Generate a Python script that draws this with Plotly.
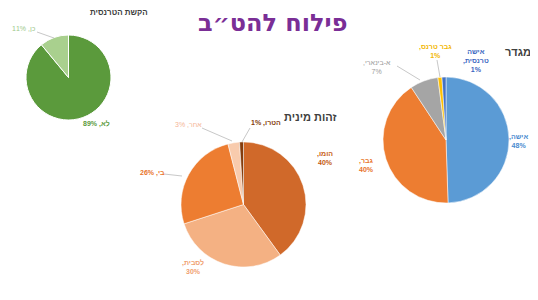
import plotly.graph_objects as go

# The page body has an 8px margin, so the figure is drawn 8px in from the corner.
OFF = 8
W, H = 538 - OFF, 300 - OFF

# ---- data ----
main_title = "פילוח להט״ב"

trans_title = "הקשת הטרנסית"
trans_labels = ["לא", "כן"]
trans_values = [89, 11]
trans_colors = ["#5b9a3c", "#a9d08e"]

gender_title = "מגדר"
gender_labels = ["אישה", "גבר", "א-בינארי", "גבר טרנס", "אישה טרנסית"]
gender_values = [48, 40, 7, 1, 1]
gender_colors = ["#5b9bd5", "#ed7d31", "#a5a5a5", "#ffc000", "#4472c4"]
gender_text_colors = ["#4a8bd0", "#e8732a", "#9a9a9a", "#f2b600", "#3a66bf"]

orient_title = "זהות מינית"
orient_labels = ["הומו", "לסבית", "בי", "אחר", "הטרו"]
orient_values = [40, 30, 26, 3, 1]
orient_colors = ["#d0692a", "#f4b183", "#ed7d31", "#f8cbad", "#843c0c"]
orient_text_colors = ["#c55a11", "#f0a070", "#e8732a", "#f5b596", "#843c0c"]

FONT = "Liberation Sans, DejaVu Sans, sans-serif"
TITLE_FONT = "DejaVu Sans, Liberation Sans, sans-serif"
RLM = "\u200f"


def px(x, y):
    return (x - OFF) / W, 1 - (y - OFF) / H


def dom(x0, x1, y0, y1):
    return dict(x=[(x0 - OFF) / W, (x1 - OFF) / W], y=[1 - (y1 - OFF) / H, 1 - (y0 - OFF) / H])


fig = go.Figure()
fig.add_trace(go.Pie(labels=trans_labels, values=trans_values, sort=False,
                     direction="clockwise", textinfo="none", hoverinfo="label+percent",
                     marker=dict(colors=trans_colors, line=dict(color="white", width=1)),
                     domain=dom(26, 111, 35, 120), showlegend=False))
fig.add_trace(go.Pie(labels=gender_labels, values=gender_values, sort=False,
                     direction="clockwise", textinfo="none", hoverinfo="label+percent",
                     marker=dict(colors=gender_colors, line=dict(color="white", width=0.5)),
                     domain=dom(383, 509, 77, 203), showlegend=False))
fig.add_trace(go.Pie(labels=orient_labels, values=orient_values, sort=False,
                     direction="clockwise", textinfo="none", hoverinfo="label+percent",
                     marker=dict(colors=orient_colors, line=dict(color="white", width=0.5)),
                     domain=dom(181, 306, 142, 267), showlegend=False))

ann = []


def add_text(text, x, y, color, size=8, bold=False, family=FONT, yanchor="middle"):
    xx, yy = px(x, y)
    if bold:
        text = f"<b>{text}</b>"
    ann.append(dict(text=text, x=xx, y=yy, xref="paper", yref="paper",
                    showarrow=False, xanchor="center", yanchor=yanchor, borderpad=0,
                    font=dict(family=family, size=size, color=color), align="center"))


def lbl2(label, val):
    return f"{label},{RLM}<br>{val}%"


def lbl1(label, val):
    return f"{label}, {val}%"


# titles
add_text(main_title, 272, 8, "#7a2e96", size=24, bold=True, family=TITLE_FONT, yanchor="top")
add_text(trans_title, 119, 13, "#404040", size=8, bold=True)
add_text(gender_title, 518, 52, "#404040", size=11, bold=True)
add_text(orient_title, 310, 117, "#404040", size=11, bold=True)

# trans pie labels
add_text(lbl1(trans_labels[0], trans_values[0]), 96, 124, "#5b9a3c", size=7, bold=True)
add_text(lbl1(trans_labels[1], trans_values[1]), 24, 29, "#9cc88a", size=7)

# gender labels
add_text(lbl2(gender_labels[0], gender_values[0]), 518, 141, gender_text_colors[0], size=7, bold=True)
add_text(lbl2(gender_labels[1], gender_values[1]), 366, 165, gender_text_colors[1], size=7, bold=True)
add_text(lbl2(gender_labels[2], gender_values[2]), 377, 67, gender_text_colors[2], size=7)
add_text(lbl2(gender_labels[3], gender_values[3]), 435, 51, gender_text_colors[3], size=7, bold=True)
parts = gender_labels[4].split(" ")
add_text(f"{parts[0]}<br>{parts[1]},{RLM}<br>{gender_values[4]}%", 476, 61,
         gender_text_colors[4], size=7, bold=True)

# orientation labels
add_text(lbl2(orient_labels[0], orient_values[0]), 325, 158, orient_text_colors[0], size=7, bold=True)
add_text(lbl2(orient_labels[1], orient_values[1]), 193, 267, orient_text_colors[1], size=7, bold=True)
add_text(lbl1(orient_labels[2], orient_values[2]), 152, 173, orient_text_colors[2], size=7, bold=True)
add_text(lbl1(orient_labels[3], orient_values[3]), 188, 125, orient_text_colors[3], size=7)
add_text(lbl1(orient_labels[4], orient_values[4]), 266, 123, orient_text_colors[4], size=7, bold=True)

# leader lines
leaders = [((37, 32), (54, 38)), ((397, 66), (420, 80)), ((437, 60), (440, 77)),
           ((164, 174), (182, 176)), ((202, 128), (232, 141)), ((250, 128), (242, 142))]
shapes = []
for (a, b) in leaders:
    x0, y0 = px(*a)
    x1, y1 = px(*b)
    shapes.append(dict(type="line", xref="paper", yref="paper", x0=x0, y0=y0, x1=x1, y1=y1,
                       line=dict(color="#c8c8c8", width=1)))

fig.update_layout(width=W, height=H, margin=dict(l=0, r=0, t=0, b=0),
                  paper_bgcolor="white", plot_bgcolor="white",
                  annotations=ann, shapes=shapes)

fig.write_html("out.html")
